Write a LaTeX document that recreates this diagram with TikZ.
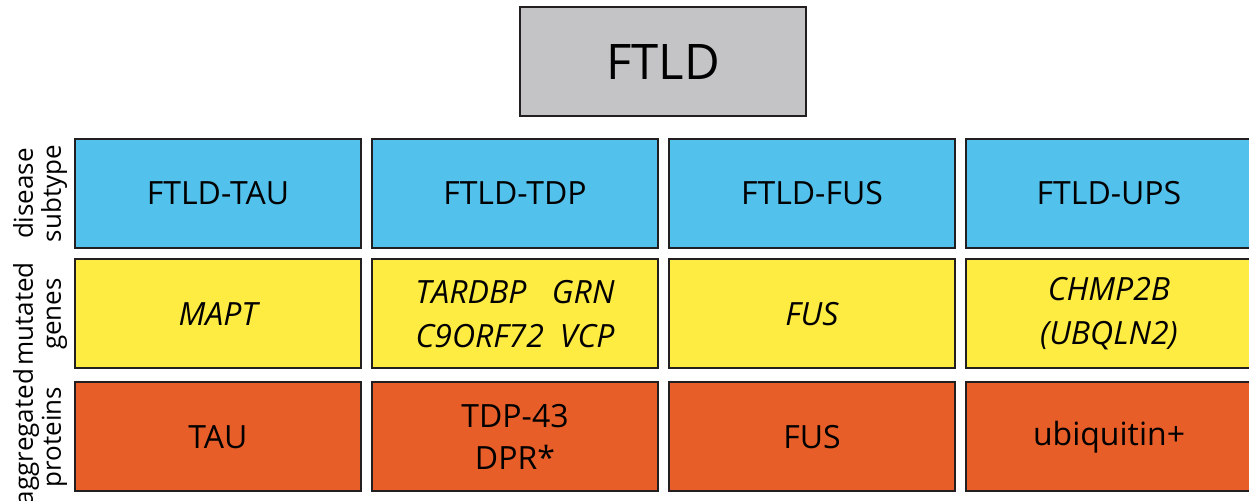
\documentclass[tikz,border=0pt]{standalone}
\usepackage{fontspec}
\setmainfont{Open Sans}
\usetikzlibrary{positioning}
\definecolor{ftldgray}{RGB}{196,196,198}
\definecolor{subblue}{RGB}{82,193,236}
\definecolor{geneyellow}{RGB}{255,236,66}
\definecolor{protorange}{RGB}{232,94,40}
\definecolor{edgedark}{RGB}{35,31,32}
\tikzset{
  cell/.style={rectangle, draw=edgedark, line width=1pt,
    minimum width=143pt, minimum height=54.5pt, inner sep=0pt,
    align=center, font=\fontsize{16}{21}\selectfont},
  subcell/.style={cell, fill=subblue},
  genecell/.style={cell, fill=geneyellow,
    font=\fontsize{16}{22}\selectfont\itshape},
  protcell/.style={cell, fill=protorange},
  titlebox/.style={cell, fill=ftldgray, font=\fontsize{24.5}{28}\selectfont},
  rowlabel/.style={rotate=90, align=center, inner sep=0pt,
    font=\fontsize{13}{14}\selectfont}
}

\begin{document}
\begin{tikzpicture}[x=0.5pt, y=-0.5pt]
  \useasboundingbox (0,0) rectangle (1249,501);
  \clip (0,0) rectangle (1249,501);
  % Title
  \node[titlebox] (ftld) at (663,62) {FTLD};
  % Disease subtype row
  \node[subcell] (tau) at (218,193.5) {FTLD-TAU};
  \node[subcell] (tdp) at (515,193.5) {FTLD-TDP};
  \node[subcell] (fus) at (812,193.5) {FTLD-FUS};
  \node[subcell] (ups) at (1109,193.5) {FTLD-UPS};
  % Mutated genes row
  \node[genecell] (mapt) at (218,314) {MAPT};
  \node[genecell] (tdpgenes) at (515,314) {TARDBP\hspace{0.8em}GRN\\C9ORF72\hspace{0.5em}VCP};
  \node[genecell] (fusgene) at (812,314) {FUS};
  \node[genecell] (chmp) at (1109,314) {CHMP2B\\(UBQLN2)};
  % Aggregated proteins row
  \node[protcell] (tauprot) at (218,437) {TAU};
  \node[protcell] (tdpprot) at (515,437) {TDP-43\\DPR*};
  \node[protcell] (fusprot) at (812,437) {FUS};
  \node[protcell] (ubiq) at (1109,437) {ubiquitin+};
  % Row labels
  \node[rowlabel] (lsub) at (40,193.5) {disease\\subtype};
  \node[rowlabel] (lgene) at (40,314) {mutated\\genes};
  \node[rowlabel] (lprot) at (40,437) {aggregated\\proteins};
\end{tikzpicture}
\end{document}
